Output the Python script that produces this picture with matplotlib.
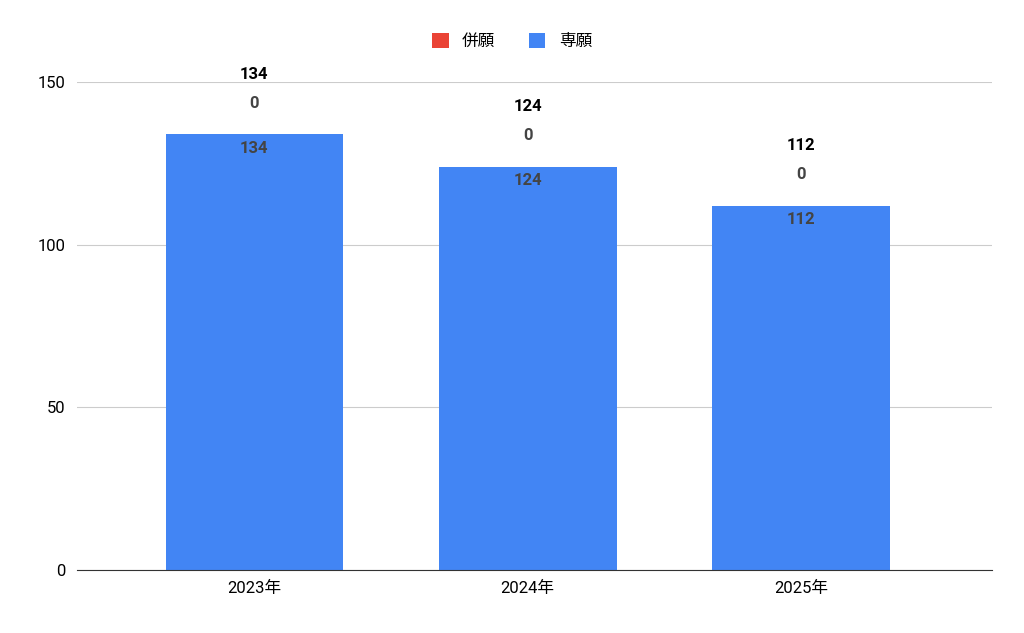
import matplotlib
matplotlib.use("Agg")
import matplotlib.pyplot as plt

plt.rcParams['font.family'] = ['Roboto', 'Noto Sans CJK JP', 'DejaVu Sans']

years = ['2023年', '2024年', '2025年']
senngan = [134, 124, 112]
heigan = [0, 0, 0]

fig = plt.figure(figsize=(10.24, 6.33), dpi=100)
ax = fig.add_axes([0.075, 0.0995, 0.894, 0.7705])

x = range(len(years))
ax.bar(x, senngan, width=0.65, color='#4285f4', label='専願', zorder=2)
ax.bar(x, heigan, width=0.65, bottom=senngan, color='#ea4335', label='併願', zorder=2)

for i in x:
    top = senngan[i] + heigan[i]
    ax.annotate(str(senngan[i]), (i, senngan[i]), xytext=(0, -14), textcoords='offset pixels',
                ha='center', va='center', fontsize=12, fontweight='bold', color='#444444')
    ax.annotate(str(heigan[i]), (i, top), xytext=(0, 31), textcoords='offset pixels',
                ha='center', va='center', fontsize=12, fontweight='bold', color='#444444',
                annotation_clip=False)
    ax.annotate(str(top), (i, top), xytext=(0, 60), textcoords='offset pixels',
                ha='center', va='center', fontsize=12, fontweight='bold', color='black',
                annotation_clip=False)

ax.set_ylim(0, 150)
ax.set_xlim(-0.65, 2.7)
ax.set_yticks([0, 50, 100, 150])
ax.set_xticks(list(x))
ax.set_xticklabels(years)
ax.tick_params(length=0, labelsize=12, pad=8)
ax.grid(axis='y', color='#cccccc', zorder=0)
for s in ['top', 'right', 'left']:
    ax.spines[s].set_visible(False)
ax.spines['bottom'].set_color('#333333')

h, l = ax.get_legend_handles_labels()
fig.legend([h[1], h[0]], [l[1], l[0]], loc='center', bbox_to_anchor=(0.5, 0.935), ncol=2,
           frameon=False, fontsize=12, handlelength=1, handleheight=1, columnspacing=2)

fig.savefig('out.png')
